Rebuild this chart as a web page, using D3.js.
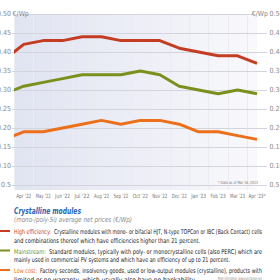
<!DOCTYPE html>
<html>
<head>
<meta charset="utf-8">
<script src="https://cdn.jsdelivr.net/npm/d3@7"></script>
<style>
  body { margin: 0; background: #fff; }
  svg { display: block; }
</style>
</head>
<body>
<div id="chart"></div>
<script>
// months (index 0 is the leading Mar '22 point, only partly visible)
var months = ["Mar '22", "Apr '22", "May '22", "Jun '22", "Jul '22", "Aug '22", "Sep '22",
              "Oct '22", "Nov '22", "Dec '22", "Jan '23", "Feb '23", "Mar '23", "Apr '23*"];
var highEfficiency = [0.38, 0.42, 0.43, 0.43, 0.44, 0.44, 0.43, 0.43, 0.43, 0.41, 0.40, 0.39, 0.39, 0.37];
var mainstream     = [0.29, 0.31, 0.32, 0.33, 0.34, 0.34, 0.34, 0.35, 0.34, 0.31, 0.30, 0.29, 0.30, 0.29];
var lowCost        = [0.17, 0.19, 0.19, 0.20, 0.21, 0.22, 0.21, 0.22, 0.22, 0.21, 0.19, 0.19, 0.18, 0.17];
var yTicks = [0.05, 0.10, 0.15, 0.20, 0.25, 0.30, 0.35, 0.40, 0.45, 0.50];
var yTickLabels = ["0.5", "0.10", "0.15", "0.20", "0.25", "0.30", "0.35", "0.40", "0.45", "0.50"];

var svgWidth = 280, svgHeight = 280;
var plotLeft = 14, plotRight = 257, plotTop = 14, plotBottom = 190;
var narrow = "'Liberation Sans Narrow', 'DejaVu Sans Condensed', 'Roboto', sans-serif";

var svg = d3.select("#chart").append("svg")
    .attr("width", svgWidth)
    .attr("height", svgHeight);

var x = d3.scaleLinear().domain([0.5, months.length - 1]).range([plotLeft, plotRight]);
var y = d3.scaleLinear().domain([0.05, 0.50]).range([185, plotTop]);

var defs = svg.append("defs");
var grad = defs.append("linearGradient").attr("id", "bg").attr("x1", "0").attr("x2", "1").attr("y1", "0").attr("y2", "0");
grad.append("stop").attr("offset", "0").attr("stop-color", "#e0e3f1");
grad.append("stop").attr("offset", "1").attr("stop-color", "#f9f9fc");
defs.append("clipPath").attr("id", "clip")
    .append("rect").attr("x", plotLeft).attr("y", 0).attr("width", plotRight - plotLeft + 4).attr("height", plotBottom);

svg.append("rect")
    .attr("x", plotLeft).attr("y", plotTop)
    .attr("width", plotRight - plotLeft).attr("height", plotBottom - plotTop)
    .attr("fill", "url(#bg)");

// vertical grid between months
svg.append("g").selectAll("line")
    .data(d3.range(1, months.length))
    .enter().append("line")
    .attr("x1", d => Math.round(x(d - 0.5)) + 0.5).attr("x2", d => Math.round(x(d - 0.5)) + 0.5)
    .attr("y1", plotTop).attr("y2", plotBottom)
    .attr("stroke", "#ebebf2").attr("stroke-width", 1);

// horizontal grid
svg.append("g").selectAll("line")
    .data(yTicks)
    .enter().append("line")
    .attr("x1", d => d === 0.50 ? 24 : 12)
    .attr("x2", d => d === 0.50 ? plotRight : 267)
    .attr("y1", d => Math.round(y(d)) + 0.5).attr("y2", d => Math.round(y(d)) + 0.5)
    .attr("stroke", "#d3d4dc").attr("stroke-width", 1);

// y labels left and right
var yAxis = svg.append("g").attr("font-family", narrow).attr("font-size", 7).attr("fill", "#8a8a8a");
yAxis.selectAll("text.l")
    .data(yTicks)
    .enter().append("text")
    .attr("class", "l")
    .attr("x", 11).attr("y", d => y(d) + 2.4)
    .attr("text-anchor", "end")
    .text((d, i) => yTickLabels[i]);
yAxis.append("text").attr("x", 12.5).attr("y", y(0.50) + 2.4).text("€/Wp");

yAxis.selectAll("text.r")
    .data(yTicks)
    .enter().append("text")
    .attr("class", "r")
    .attr("x", 269.5).attr("y", d => y(d) + 2.4)
    .text((d, i) => yTickLabels[i]);
yAxis.append("text").attr("x", 268).attr("y", y(0.50) + 2.4).attr("text-anchor", "end").text("€/Wp");

// x labels
svg.append("g").selectAll("text")
    .data(months.slice(1))
    .enter().append("text")
    .attr("x", (d, i) => x(i + 1) - (d.indexOf("*") > 0 ? 8.5 : 7.5))
    .attr("y", 198)
    .attr("font-family", narrow).attr("font-size", 5.8).attr("fill", "#777")
    .attr("textLength", d => d.indexOf("*") > 0 ? 17 : 15)
    .attr("lengthAdjust", "spacingAndGlyphs")
    .text(d => d);

svg.append("text")
    .attr("x", 218).attr("y", 183.5)
    .attr("font-family", narrow).attr("font-size", 4.2).attr("fill", "#777")
    .attr("textLength", 40).attr("lengthAdjust", "spacingAndGlyphs")
    .text("* Data as of Mar 16, 2023");

// lines
var line = d3.line().x((d, i) => x(i)).y(d => y(d));
var lines = svg.append("g").attr("clip-path", "url(#clip)");
var series = [
  {values: highEfficiency, color: "#c43d22"},
  {values: mainstream, color: "#7a8f1c"},
  {values: lowCost, color: "#ec6f1a"}
];
lines.selectAll("path")
    .data(series)
    .enter().append("path")
    .attr("d", d => line(d.values))
    .attr("fill", "none")
    .attr("stroke", d => d.color)
    .attr("stroke-width", 3)
    .attr("stroke-linejoin", "round");

// captions
svg.append("text")
    .attr("x", 14).attr("y", 213.5)
    .attr("font-family", narrow).attr("font-size", 9.5).attr("font-weight", "bold").attr("font-style", "italic")
    .attr("fill", "#2b66b1")
    .attr("textLength", 67).attr("lengthAdjust", "spacingAndGlyphs")
    .text("Crystalline modules");
svg.append("text")
    .attr("x", 14).attr("y", 222)
    .attr("font-family", narrow).attr("font-size", 7).attr("font-style", "italic")
    .attr("fill", "#8a8a8a")
    .attr("textLength", 118).attr("lengthAdjust", "spacingAndGlyphs")
    .text("(mono-/poly-Si) average net prices (€/Wp)");

var legendRows = [
  {color: "#c43d22", label: "High efficiency:", labelLen: 37, y: 234,
   first: "Crystalline modules with mono- or bifacial HJT, N-type TOPCon or IBC (Back Contact) cells",
   second: "and combinations thereof which have efficiencies higher than 21 percent.", secondLen: 186},
  {color: "#7a8f1c", label: "Mainstream:", labelLen: 32, y: 253.5,
   first: "Standard modules, typically with poly- or monocrystalline cells (also PERC) which are",
   second: "mainly used in commercial PV systems and which have an efficiency of up to 21 percent.", secondLen: 216},
  {color: "#ec6f1a", label: "Low cost:", labelLen: 23, y: 273,
   first: "Factory seconds, insolvency goods, used or low-output modules (crystalline), products with",
   second: "limited or no warranty, which usually also have no bankability", secondLen: 181}
];

var legend = svg.append("g").attr("font-family", narrow).attr("font-size", 6.6);
legendRows.forEach(function(r) {
  legend.append("line")
      .attr("x1", 0).attr("x2", 10)
      .attr("y1", r.y - 3).attr("y2", r.y - 3)
      .attr("stroke", r.color).attr("stroke-width", 2);
  legend.append("text")
      .attr("x", 14).attr("y", r.y)
      .attr("fill", r.color)
      .attr("textLength", r.labelLen).attr("lengthAdjust", "spacingAndGlyphs")
      .text(r.label);
  legend.append("text")
      .attr("x", 14 + r.labelLen + 3).attr("y", r.y)
      .attr("fill", "#222")
      .attr("textLength", 262 - (14 + r.labelLen + 3)).attr("lengthAdjust", "spacingAndGlyphs")
      .text(r.first);
  legend.append("text")
      .attr("x", 14).attr("y", r.y + 8.5)
      .attr("fill", "#222")
      .attr("textLength", r.secondLen).attr("lengthAdjust", "spacingAndGlyphs")
      .text(r.second);
});

svg.append("text")
    .attr("x", 218).attr("y", 279.5)
    .attr("font-family", narrow).attr("font-size", 4.4).attr("fill", "#8a8a8a")
    .attr("textLength", 44).attr("lengthAdjust", "spacingAndGlyphs")
    .text("More information: www.pvXchange.com");
</script>
</body>
</html>
